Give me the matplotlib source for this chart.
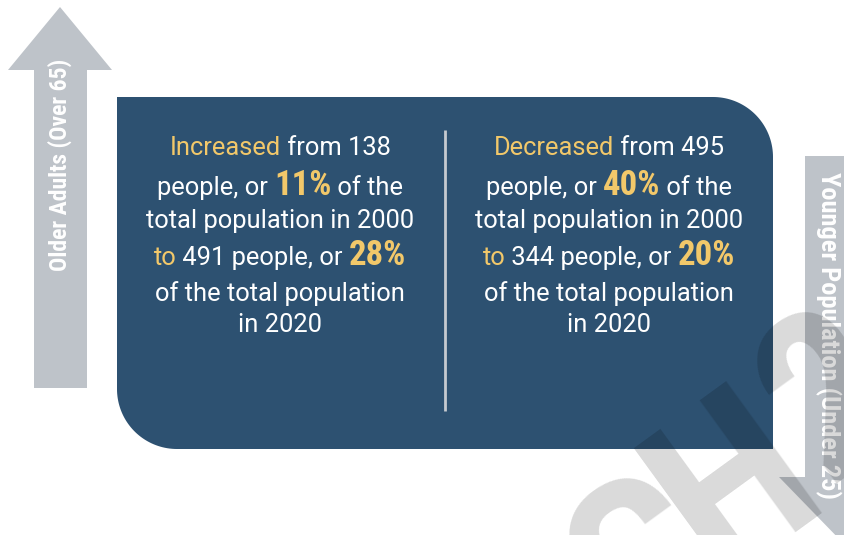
import numpy as np
import matplotlib.pyplot as plt
from matplotlib.patches import Polygon

# data
groups = ["Older Adults (Over 65)", "Younger Population (Under 25)"]
trend = ["Increased", "Decreased"]
people_2000 = [138, 495]
share_2000 = [11, 40]
people_2020 = [491, 344]
share_2020 = [28, 20]

NAVY = '#2d5171'
GOLD = '#f2c86a'
WHITE = '#ffffff'
GREY = '#bec3c9'
BODY = ['Roboto', 'DejaVu Sans']
BOLD = ['Roboto Condensed', 'Roboto', 'DejaVu Sans']
W, H = 844, 535

fig = plt.figure(figsize=(W / 100, H / 100), dpi=100)
ax = fig.add_axes([0, 0, 1, 1])
ax.set_xlim(0, W)
ax.set_ylim(H, 0)
ax.axis('off')


def arc(cx, cy, r, a0, a1, n=40):
    t = np.radians(np.linspace(a0, a1, n))
    return np.column_stack([cx + r * np.cos(t), cy + r * np.sin(t)])


# navy panel, rounded top-right and bottom-left
x0, x1, y0, y1, r = 117, 773, 97, 449, 60
pts = np.vstack([[[x0, y0], [x1 - r, y0]],
                 arc(x1 - r, y0 + r, r, -90, 0),
                 [[x1, y1], [x0 + r, y1]],
                 arc(x0 + r, y1 - r, r, 90, 180)])
ax.add_patch(Polygon(pts, closed=True, facecolor=NAVY, edgecolor='none', zorder=2))

# grey arrows
up = [(34, 388), (34, 70), (8, 70), (60, 7), (112, 70), (87, 70), (87, 388)]
down = [(805, 156), (805, 477), (779, 477), (845, 545), (911, 477), (885, 477), (885, 156)]
ax.add_patch(Polygon(up, closed=True, facecolor=GREY, edgecolor='none', zorder=1))
ax.add_patch(Polygon(down, closed=True, facecolor=GREY, edgecolor='none', zorder=1))

label_kw = dict(ha='center', va='center', fontweight='bold', color=WHITE,
                family=BOLD, zorder=3)
ax.text(60, 165, groups[0], rotation=90, fontsize=17, **label_kw)
ax.text(828, 335, groups[1], rotation=-90, fontsize=19, **label_kw)

# divider
ax.plot([445, 445], [130, 411], color='#c5cad0', lw=2, solid_capstyle='butt', zorder=3)

renderer = fig.canvas.get_renderer()


def rich_line(xc, y, parts):
    texts = []
    for s, color, big in parts:
        if big:
            t = ax.text(0, y, s, color=color, family=BOLD, fontweight='bold', fontsize=25,
                        ha='left', va='baseline', zorder=4)
        else:
            t = ax.text(0, y, s, color=color, family=BODY, fontsize=18.4,
                        ha='left', va='baseline', zorder=4)
        texts.append(t)
    widths = [t.get_window_extent(renderer).width for t in texts]
    x = xc - sum(widths) / 2
    for t, w in zip(texts, widths):
        t.set_x(x)
        x += w


baselines = [155, 195, 228, 265, 301, 332]
centers = [280, 609]
for i in range(2):
    lines = [
        [(trend[i], GOLD, False), (f" from {people_2000[i]}", WHITE, False)],
        [("people, or ", WHITE, False), (f"{share_2000[i]}%", GOLD, True), (" of the", WHITE, False)],
        [("total population in 2000", WHITE, False)],
        [("to", GOLD, False), (f" {people_2020[i]} people, or ", WHITE, False), (f"{share_2020[i]}%", GOLD, True)],
        [("of the total population", WHITE, False)],
        [("in 2020", WHITE, False)],
    ]
    for y, parts in zip(baselines, lines):
        rich_line(centers[i], y, parts)

# faint watermark letters running off the bottom edge
for ch, bx, by in [("C", 686, 620), ("H", 774, 539), ("2", 874, 451)]:
    ax.text(bx, by, ch, rotation=36, rotation_mode='anchor', ha='center', va='baseline',
            fontsize=165, fontweight='bold', family=BOLD,
            color='k', alpha=0.15, zorder=5, clip_on=False)

fig.savefig('out.png', dpi=100, facecolor='white')
